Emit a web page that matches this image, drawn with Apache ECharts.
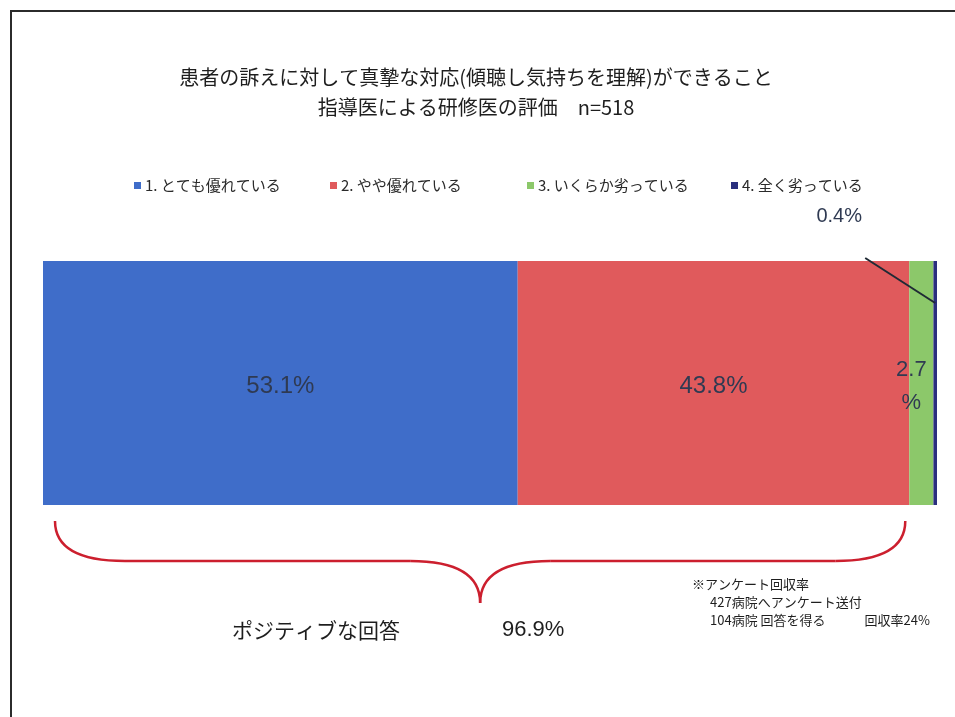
<!DOCTYPE html>
<html>
<head>
<meta charset="utf-8">
<script src="https://cdn.jsdelivr.net/npm/echarts@6/dist/echarts.min.js"></script>
<style>
  html, body { margin: 0; padding: 0; background: #ffffff; }
  #chart { width: 955px; height: 717px; }
</style>
</head>
<body>
<div id="chart"></div>
<script>
// ---- data ----
const titleLines = [
  '患者の訴えに対して真摯な対応(傾聴し気持ちを理解)ができること',
  '指導医による研修医の評価　n=518'
];
const categories = ['指導医による研修医の評価'];
const seriesNames = ['1. とても優れている', '2. やや優れている', '3. いくらか劣っている', '4. 全く劣っている'];
const seriesValues = [53.1, 43.8, 2.7, 0.4];
const positiveLabel = 'ポジティブな回答';
const noteLines = ['※アンケート回収率', '427病院へアンケート送付', '104病院 回答を得る　　　回収率24%'];

// ---- style ----
const colors = ['#3f6dc9', '#e05a5c', '#8cc86a', '#2a2f7e'];
const legendLefts = [129, 325, 522, 726];
const cjk = '"Noto Sans CJK JP", "Noto Sans", sans-serif';
const latin = '"Liberation Sans", Arial, "Noto Sans CJK JP", sans-serif';
const labelColor = '#2f3a52';
const grid = { left: 43, right: 18, top: 261, bottom: 212 };

const chart = echarts.init(document.getElementById('chart'), null, { renderer: 'canvas' });

const series = seriesValues.map((v, i) => {
  const s = {
    name: seriesNames[i],
    type: 'bar',
    stack: 'total',
    barWidth: '100%',
    data: [v],
    itemStyle: { color: colors[i] },
    emphasis: { disabled: true },
    label: {
      show: true,
      position: 'inside',
      formatter: p => p.value.toFixed(1) + '%',
      color: labelColor,
      fontFamily: latin,
      fontSize: 24,
      offset: [0, 3]
    }
  };
  if (i === 2) {
    s.label.formatter = p => p.value.toFixed(1) + '\n%';
    s.label.fontSize = 22;
    s.label.lineHeight = 33;
    s.label.offset = [-10, 3];
  }
  if (i === 3) {
    s.label.position = 'top';
    s.label.fontSize = 20;
    s.label.offset = [-96, -30];
  }
  return s;
});

const legends = seriesNames.map((n, i) => ({
  data: [n],
  left: legendLefts[i],
  top: 173,
  itemWidth: 7,
  itemHeight: 7,
  itemGap: 0,
  icon: 'rect',
  selectedMode: false,
  textStyle: { fontFamily: cjk, fontSize: 15, color: '#2a2a2a', padding: [0, 0, 0, -1] }
}));

chart.setOption({
  animation: false,
  backgroundColor: '#ffffff',
  title: {
    text: titleLines.join('\n'),
    left: 471,
    top: 57,
    textAlign: 'center',
    textStyle: { fontFamily: cjk, fontSize: 20, fontWeight: 'normal', color: '#1e1e1e', lineHeight: 30 }
  },
  legend: legends,
  grid: grid,
  xAxis: { type: 'value', min: 0, max: 100, show: false },
  yAxis: { type: 'category', data: categories, show: false },
  series: series
});

// ---- annotations derived from the axes ----
const barTop = grid.top;
const barBottom = 717 - grid.bottom;
const xOf = v => chart.convertToPixel({ gridIndex: 0 }, [v, 0])[0];

// leader line pointing at the middle of the last segment
const lastMid = seriesValues.slice(0, 3).reduce((a, b) => a + b, 0) + seriesValues[3] / 2;
const leadEnd = [xOf(lastMid), barTop + 42];
const leadStart = [leadEnd[0] - 70, barTop - 3];

// brace spanning the positive answers (series 1 + 2)
const positive = seriesValues[0] + seriesValues[1];
const bx0 = xOf(0) + 12;
const bx1 = xOf(positive) - 4;
const bm = (bx0 + bx1) / 2;
const yTop = barBottom + 16, yMid = barBottom + 56, yTip = barBottom + 98;
const braceStyle = { fill: 'none', stroke: '#cc1f2e', lineWidth: 2.5 };
const curve = (x1, y1, cx, cy, x2, y2) => ({
  type: 'bezierCurve', silent: true, z: 100,
  shape: { x1, y1, x2, y2, cpx1: cx, cpy1: cy }, style: braceStyle
});
const straight = (x1, y1, x2, y2, style) => ({
  type: 'line', silent: true, z: 100, shape: { x1, y1, x2, y2 }, style
});
const txt = (x, y, text, font) => ({
  type: 'text', silent: true, z: 100, x, y,
  style: { text, font, fill: '#1e1e1e', verticalAlign: 'middle' }
});

chart.setOption({
  graphic: [
    { type: 'rect', silent: true, z: 100, shape: { x: 11, y: 11, width: 1000, height: 800 },
      style: { fill: 'none', stroke: '#2b2b2b', lineWidth: 2 } },
    straight(leadStart[0], leadStart[1], leadEnd[0], leadEnd[1], { stroke: '#1f2a35', lineWidth: 2 }),
    curve(bx0, yTop, bx0, yMid, bx0 + 70, yMid),
    straight(bx0 + 70, yMid, bm - 70, yMid, braceStyle),
    curve(bm - 70, yMid, bm, yMid, bm, yTip),
    curve(bm, yTip, bm, yMid, bm + 70, yMid),
    straight(bm + 70, yMid, bx1 - 70, yMid, braceStyle),
    curve(bx1 - 70, yMid, bx1, yMid, bx1, yTop),
    txt(232, 630, positiveLabel, '21px ' + cjk),
    txt(502, 630, positive.toFixed(1) + '%', '22px ' + latin),
    txt(692, 584, noteLines[0], '13px ' + cjk),
    txt(710, 602, noteLines[1], '13px ' + cjk),
    txt(710, 620, noteLines[2], '13px ' + cjk)
  ]
});
</script>
</body>
</html>
